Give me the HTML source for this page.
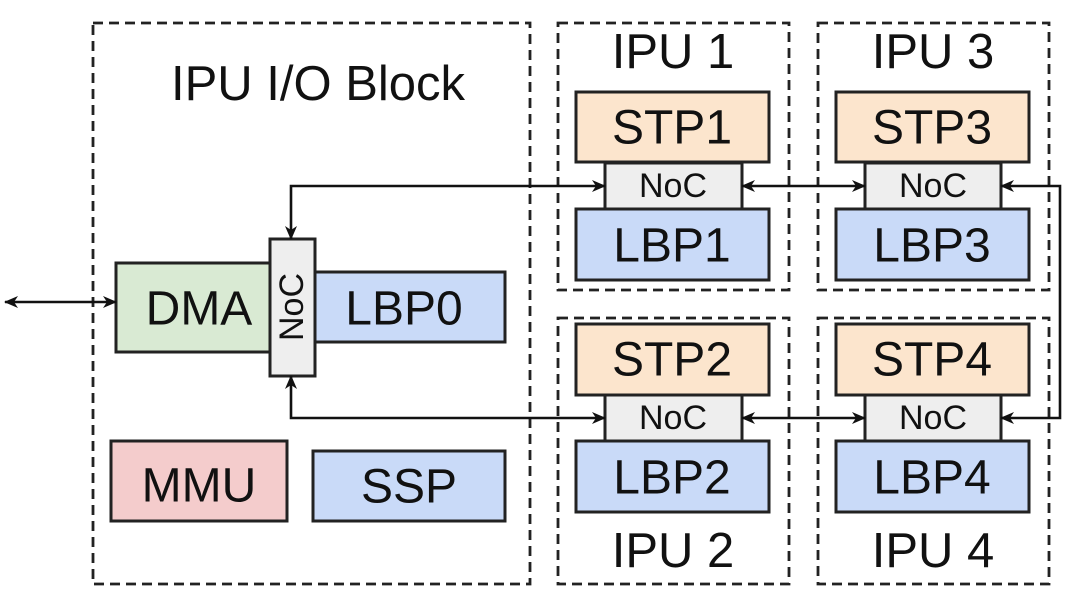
<!DOCTYPE html>
<html><head><style>
body{margin:0;background:#fff;}
svg text{font-family:"Liberation Sans",sans-serif;fill:#111;text-anchor:middle;dominant-baseline:central;}
</style></head><body>
<svg width="1080" height="601" viewBox="0 0 1080 601" xmlns="http://www.w3.org/2000/svg">
<defs><marker id="a" markerWidth="14" markerHeight="14" refX="13" refY="7" orient="auto-start-reverse" markerUnits="userSpaceOnUse"><path d="M0,1 L14,7 L0,13 L4,7 Z" fill="#111"/></marker></defs>
<g fill="none" stroke="#222" stroke-width="2.8" stroke-dasharray="10,6">
<rect x="93" y="23" width="437" height="561"/>
<rect x="558" y="23" width="231" height="267"/>
<rect x="818" y="23" width="231" height="267"/>
<rect x="558" y="318" width="231" height="266"/>
<rect x="818" y="318" width="231" height="266"/>
</g>
<text x="318" y="84" font-size="49">IPU I/O Block</text>
<text x="673" y="52" font-size="49">IPU 1</text>
<text x="933" y="52" font-size="49">IPU 3</text>
<text x="673" y="551" font-size="49">IPU 2</text>
<text x="933" y="551" font-size="49">IPU 4</text>
<g stroke="#222" stroke-width="3">
<rect x="116" y="263" width="154" height="89" fill="#d9ead3"/>
<rect x="315" y="272" width="190" height="70" fill="#c9daf8"/>
<rect x="270" y="239" width="45" height="137" fill="#eeeeee"/>
<rect x="111" y="441" width="176" height="80" fill="#f4cccc"/>
<rect x="313" y="451" width="192" height="70" fill="#c9daf8"/>
<rect x="576" y="92" width="193" height="70" fill="#fce5cd"/>
<rect x="605" y="163" width="137" height="46" fill="#eeeeee"/>
<rect x="576" y="209" width="193" height="71" fill="#c9daf8"/>
<rect x="836" y="92" width="193" height="70" fill="#fce5cd"/>
<rect x="865" y="163" width="136" height="46" fill="#eeeeee"/>
<rect x="836" y="209" width="193" height="71" fill="#c9daf8"/>
<rect x="576" y="324" width="193" height="71" fill="#fce5cd"/>
<rect x="605" y="395" width="137" height="46" fill="#eeeeee"/>
<rect x="576" y="441" width="193" height="71" fill="#c9daf8"/>
<rect x="836" y="324" width="193" height="71" fill="#fce5cd"/>
<rect x="865" y="395" width="136" height="46" fill="#eeeeee"/>
<rect x="836" y="441" width="193" height="71" fill="#c9daf8"/>
</g>
<g font-size="48">
<text x="199" y="309">DMA</text>
<text x="404" y="309">LBP0</text>
<text x="199" y="486">MMU</text>
<text x="409" y="487">SSP</text>
<text x="672" y="128">STP1</text><text x="672" y="246">LBP1</text>
<text x="932" y="128">STP3</text><text x="932" y="246">LBP3</text>
<text x="672" y="360">STP2</text><text x="672" y="478">LBP2</text>
<text x="932" y="360">STP4</text><text x="932" y="478">LBP4</text>
</g>
<g font-size="34">
<text x="673" y="186">NoC</text><text x="933" y="186">NoC</text>
<text x="673" y="418">NoC</text><text x="933" y="418">NoC</text>
<text x="292" y="307" transform="rotate(-90 292 307)">NoC</text>
</g>
<g fill="none" stroke="#111" stroke-width="2.6">
<path d="M5,302 L116,302" marker-start="url(#a)" marker-end="url(#a)"/>
<path d="M291,239 L291,186 L605,186" marker-start="url(#a)" marker-end="url(#a)"/>
<path d="M291,376 L291,418 L605,418" marker-start="url(#a)" marker-end="url(#a)"/>
<path d="M742,186 L865,186" marker-start="url(#a)" marker-end="url(#a)"/>
<path d="M742,418 L865,418" marker-start="url(#a)" marker-end="url(#a)"/>
<path d="M1001,186 L1060,186 L1060,418 L1001,418" marker-start="url(#a)" marker-end="url(#a)"/>
</g>
</svg>
</body></html>
